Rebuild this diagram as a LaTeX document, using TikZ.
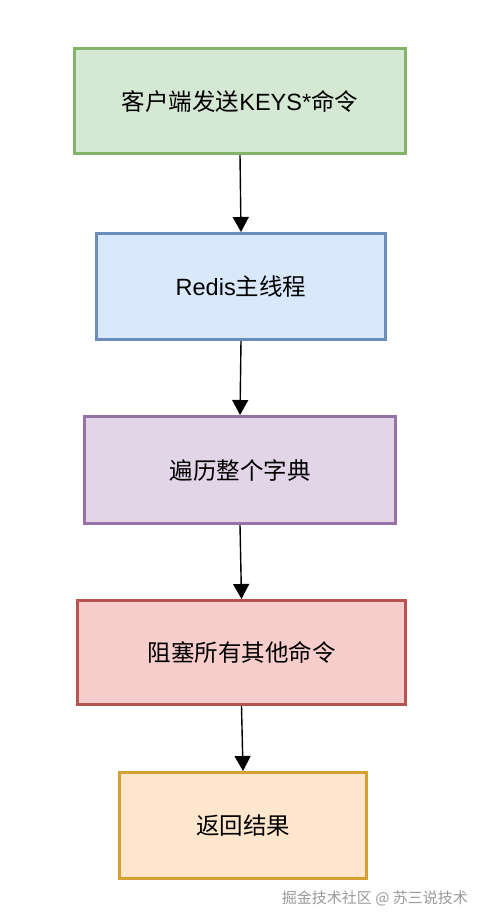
\documentclass[tikz,border=0pt]{standalone}
\usepackage{fontspec}
\setmainfont{Liberation Sans}
\newfontfamily\cjk{Noto Sans CJK SC}
\usetikzlibrary{arrows.meta}
\definecolor{gfill}{HTML}{D5E8D4}\definecolor{gline}{HTML}{82B366}
\definecolor{bfill}{HTML}{DAE8FC}\definecolor{bline}{HTML}{6C8EBF}
\definecolor{pfill}{HTML}{E1D5E7}\definecolor{pline}{HTML}{9673A6}
\definecolor{rfill}{HTML}{F8CECC}\definecolor{rline}{HTML}{B85450}
\definecolor{ofill}{HTML}{FFE6CC}\definecolor{oline}{HTML}{D6A033}
\definecolor{wm}{HTML}{9A9A9A}
\tikzset{
  stepbox/.style={draw, line width=3bp, inner sep=0pt,
    font=\fontsize{23.5bp}{28bp}\selectfont, text=black},
  flow/.style={line width=1.4bp, draw=black,
    -{Triangle[width=16bp,length=15bp]}},
}
\begin{document}
\begin{tikzpicture}[x=1bp,y=-1bp]
\useasboundingbox[fill=white] (0,0) rectangle (482,922);
\node[stepbox, fill=gfill, draw=gline, minimum width=331bp, minimum height=105bp] (b1) at (240,101) {\cjk 客户端发送\rmfamily KEYS*\cjk 命令};
\node[stepbox, fill=bfill, draw=bline, minimum width=289bp, minimum height=106bp] (b2) at (241,286.5) {Redis\cjk 主线程};
\node[stepbox, fill=pfill, draw=pline, minimum width=311bp, minimum height=107bp] (b3) at (240,470) {\cjk 遍历整个字典};
\node[stepbox, fill=rfill, draw=rline, minimum width=328bp, minimum height=104bp] (b4) at (241.5,652.5) {\cjk 阻塞所有其他命令};
\node[stepbox, fill=ofill, draw=oline, minimum width=247bp, minimum height=106bp] (b5) at (243,825.5) {\cjk 返回结果};
\draw[flow] (b1.south) -- (b2.north);
\draw[flow] (b2.south) -- (b3.north);
\draw[flow] (b3.south) -- (b4.north);
\draw[flow] (b4.south) -- (b5.north);
\node[anchor=east, inner sep=0pt, text=wm, font=\cjk\fontsize{15bp}{18bp}\selectfont] (wmark) at (468,898) {掘金技术社区 @ 苏三说技术};
\end{tikzpicture}
\end{document}
